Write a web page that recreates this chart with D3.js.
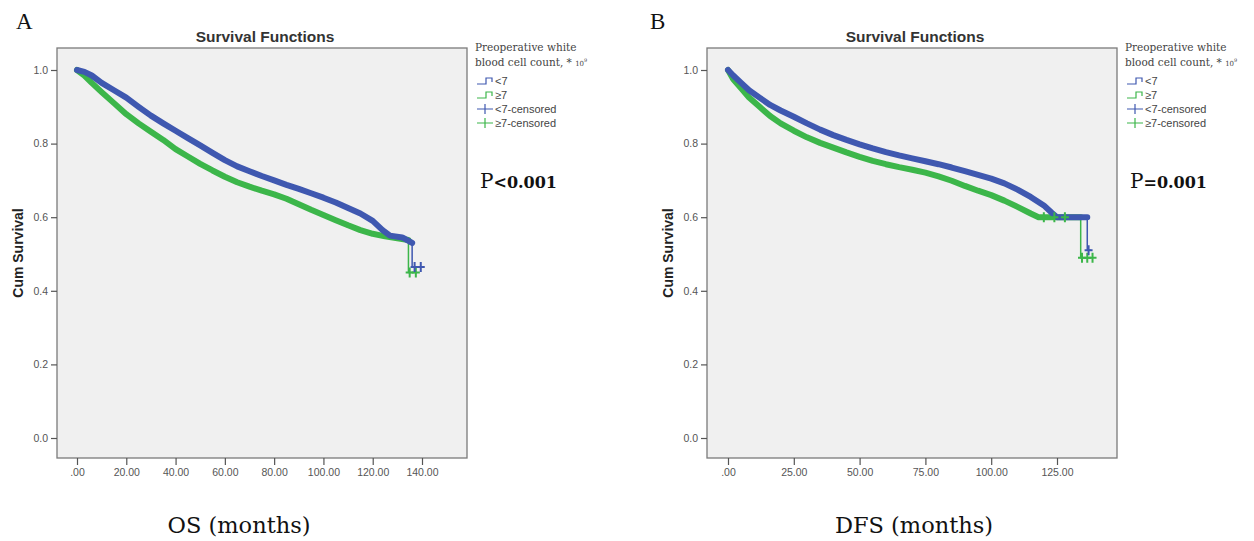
<!DOCTYPE html>
<html>
<head>
<meta charset="utf-8">
<script src="https://cdn.jsdelivr.net/npm/d3@7"></script>
<style>
  body { margin: 0; background: #fff; }
  svg { display: block; }
</style>
</head>
<body>
<svg id="chart" width="1254" height="541"></svg>
<script>
// Kaplan-Meier curves: [months, cumulative survival]
const osLow = [[0,1.0],[3,0.995],[6,0.985],[10,0.965],[15,0.945],[20,0.925],[25,0.9],[30,0.876],[35,0.855],[40,0.835],[45,0.815],[50,0.795],[55,0.775],[60,0.755],[65,0.738],[70,0.725],[75,0.712],[80,0.7],[85,0.688],[90,0.677],[95,0.665],[100,0.653],[105,0.64],[110,0.625],[115,0.61],[120,0.59],[124,0.565],[127,0.55],[132,0.545],[136,0.53],[136,0.465],[139,0.465]];
const osHigh = [[0,1.0],[3,0.985],[6,0.965],[10,0.94],[15,0.91],[20,0.88],[25,0.855],[30,0.832],[35,0.81],[40,0.785],[45,0.765],[50,0.745],[55,0.727],[60,0.71],[65,0.695],[70,0.683],[75,0.672],[80,0.662],[85,0.65],[90,0.635],[95,0.62],[100,0.606],[105,0.592],[110,0.578],[115,0.565],[120,0.555],[125,0.548],[130,0.543],[134.5,0.538],[134.5,0.45],[138,0.45]];
const dfsLow = [[0,1.0],[2,0.985],[5,0.965],[8,0.945],[12,0.925],[16,0.905],[20,0.89],[25,0.873],[30,0.855],[35,0.838],[40,0.823],[45,0.81],[50,0.798],[55,0.787],[60,0.777],[65,0.768],[70,0.76],[75,0.752],[80,0.744],[85,0.735],[90,0.725],[95,0.715],[100,0.705],[105,0.692],[110,0.675],[115,0.655],[120,0.632],[123,0.612],[125,0.6],[136.5,0.6],[136.5,0.51],[138,0.51]];
const dfsHigh = [[0,1.0],[2,0.975],[5,0.95],[8,0.925],[12,0.9],[16,0.875],[20,0.855],[25,0.835],[30,0.817],[35,0.802],[40,0.789],[45,0.776],[50,0.764],[55,0.753],[60,0.744],[65,0.736],[70,0.729],[75,0.721],[80,0.711],[85,0.699],[90,0.685],[95,0.672],[100,0.66],[105,0.645],[110,0.628],[115,0.61],[118,0.6],[134,0.6],[134,0.49],[138,0.49]];

// censored marks near the tails
const osLowCens = [[137,0.465],[139.5,0.465]];
const osHighCens = [[135,0.45],[137.5,0.45]];
const dfsLowCens = [[137,0.51]];
const dfsHighCens = [[120,0.6],[124,0.6],[128,0.6],[134.5,0.49],[136.5,0.49],[138.5,0.49]];

const yTicks = [0, 0.2, 0.4, 0.6, 0.8, 1.0];
const osTicks = [0, 20, 40, 60, 80, 100, 120, 140];
const dfsTicks = [0, 25, 50, 75, 100, 125];
const legendLabels = ["<7", "\u22657", "<7-censored", "\u22657-censored"];

const blue = "#3f58b0";
const green = "#3cb64a";

const svg = d3.select("#chart");

function drawPanel(opt) {
    const g = svg.append("g");
    const box = opt.box; // [x0, y0, x1, y1]

    const x = d3.scaleLinear().domain(opt.xDomain).range(opt.xRange);
    const y = d3.scaleLinear().domain([0, 1]).range([438, 70]);

    g.append("rect")
        .attr("x", box[0]).attr("y", box[1])
        .attr("width", box[2] - box[0]).attr("height", box[3] - box[1])
        .attr("fill", "#f0f0f0")
        .attr("stroke", "#7a7a7a")
        .attr("stroke-width", 1.3);

    // y axis
    const yAxis = g.append("g")
        .attr("transform", `translate(${box[0]},0)`)
        .call(d3.axisLeft(y).tickValues(yTicks).tickFormat(d3.format(".1f")).tickSize(6).tickPadding(3));
    yAxis.select(".domain").remove();

    // x axis
    const xAxis = g.append("g")
        .attr("transform", `translate(0,${box[3]})`)
        .call(d3.axisBottom(x).tickValues(opt.ticks)
            .tickFormat(d => d === 0 ? ".00" : d3.format(".2f")(d))
            .tickSize(7).tickPadding(4));
    xAxis.select(".domain").remove();

    g.selectAll(".tick line").attr("stroke", "#555").attr("stroke-width", 1.2);
    g.selectAll(".tick text")
        .style("fill", "#555")
        .style("font-family", "Arial, 'Liberation Sans', sans-serif")
        .style("font-size", "10.5px");

    const line = d3.line().x(d => x(d[0])).y(d => y(d[1]));

    // thick body of each curve (censor marks make it look heavy), thin vertical drop at the end
    [[opt.high, green], [opt.low, blue]].forEach(([data, col]) => {
        g.append("path")
            .datum(data.slice(0, -2))
            .attr("d", line)
            .attr("fill", "none")
            .attr("stroke", col)
            .attr("stroke-width", 6)
            .attr("stroke-linejoin", "round")
            .attr("stroke-linecap", "round");
        g.append("path")
            .datum(data.slice(-3))
            .attr("d", line)
            .attr("fill", "none")
            .attr("stroke", col)
            .attr("stroke-width", 1.5);
    });

    [[opt.highCens, green], [opt.lowCens, blue]].forEach(([pts, col]) => {
        g.selectAll(null)
            .data(pts)
            .enter()
            .append("path")
            .attr("d", d => {
                const px = x(d[0]), py = y(d[1]);
                return `M${px - 4},${py}H${px + 4}M${px},${py - 5}V${py + 5}`;
            })
            .attr("stroke", col)
            .attr("stroke-width", 2);
    });

    // title
    g.append("text")
        .attr("x", (box[0] + box[2]) / 2 + 3)
        .attr("y", 42)
        .attr("text-anchor", "middle")
        .style("font-family", "Arial, 'Liberation Sans', sans-serif")
        .style("font-weight", "bold")
        .style("font-size", "15.5px")
        .attr("fill", "#333")
        .text("Survival Functions");

    // y label
    g.append("text")
        .attr("transform", `translate(${box[0] - 34},253) rotate(-90)`)
        .attr("text-anchor", "middle")
        .style("font-family", "Arial, 'Liberation Sans', sans-serif")
        .style("font-weight", "bold")
        .style("font-size", "14px")
        .attr("fill", "#222")
        .text("Cum Survival");

    // panel letter
    g.append("text")
        .attr("x", opt.letterX)
        .attr("y", 29)
        .style("font-family", "'Liberation Serif', 'DejaVu Serif', serif")
        .style("font-size", "23px")
        .attr("fill", "#111")
        .text(opt.letter);

    // x label under the panel
    g.append("text")
        .attr("x", opt.xLabelX)
        .attr("y", 533)
        .attr("text-anchor", "middle")
        .style("font-family", "'DejaVu Serif', serif")
        .style("font-size", opt.xLabelSize)
        .attr("fill", "#111")
        .text(opt.xLabel);

    // p value
    const p = g.append("text")
        .attr("x", opt.pX)
        .attr("y", 188)
        .style("font-family", "'DejaVu Serif', serif")
        .attr("fill", "#111");
    p.append("tspan").style("font-size", "20px").text("P");
    p.append("tspan").style("font-size", "16px").style("font-weight", "bold").text(opt.pText);

    // legend
    const lg = g.append("g").attr("transform", `translate(${box[2] + 8},0)`);
    lg.append("text")
        .attr("x", 0).attr("y", 51)
        .style("font-family", "'DejaVu Serif', serif")
        .style("font-size", "10.5px")
        .attr("fill", "#444")
        .text("Preoperative white");
    const t2 = lg.append("text")
        .attr("x", 0).attr("y", 66)
        .style("font-family", "'DejaVu Serif', serif")
        .style("font-size", "10.5px")
        .attr("fill", "#444");
    t2.append("tspan").text("blood cell count, * ");
    t2.append("tspan").style("font-size", "7px").text("10");
    t2.append("tspan").attr("dy", -4).style("font-size", "5px").text("9");

    const items = lg.selectAll(".item")
        .data(legendLabels)
        .enter()
        .append("g")
        .attr("class", "item")
        .attr("transform", (d, i) => `translate(2,${81 + i * 14})`);

    items.append("path")
        .attr("d", (d, i) => i < 2
            ? "M0,3H9V-3H15V1"
            : "M0,0H16M8,-5V5")
        .attr("fill", "none")
        .attr("stroke", (d, i) => i % 2 === 0 ? blue : green)
        .attr("stroke-width", 1.2);

    items.append("text")
        .attr("x", 18)
        .attr("y", 4)
        .style("font-family", "Arial, 'Liberation Sans', sans-serif")
        .style("font-size", "11px")
        .attr("fill", "#444")
        .text(d => d);
}

drawPanel({
    box: [57, 48, 467, 458],
    xDomain: [0, 140], xRange: [77, 422],
    ticks: osTicks,
    low: osLow, high: osHigh, lowCens: osLowCens, highCens: osHighCens,
    letter: "A", letterX: 16,
    xLabel: "OS (months)", xLabelX: 239, xLabelSize: "22.5px",
    pX: 480, pText: "<0.001"
});

drawPanel({
    box: [707, 48, 1117, 458],
    xDomain: [0, 125], xRange: [728, 1057],
    ticks: dfsTicks,
    low: dfsLow, high: dfsHigh, lowCens: dfsLowCens, highCens: dfsHighCens,
    letter: "B", letterX: 650,
    xLabel: "DFS (months)", xLabelX: 914, xLabelSize: "22.5px",
    pX: 1130, pText: "=0.001"
});
</script>
</body>
</html>
